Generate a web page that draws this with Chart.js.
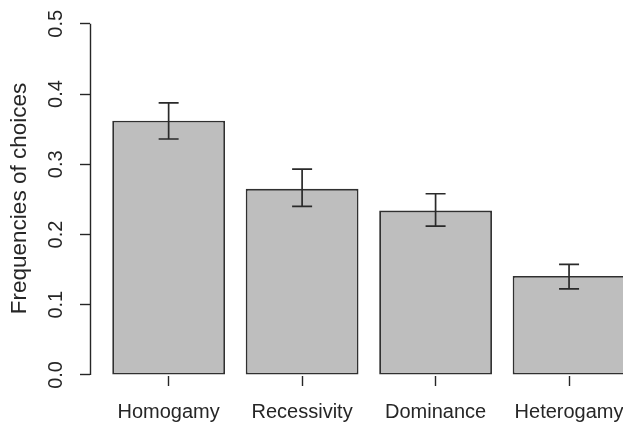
<!DOCTYPE html>
<html>
<head>
<meta charset="utf-8">
<script src="https://cdn.jsdelivr.net/npm/chart.js@4"></script>
<style>
  html, body { margin: 0; padding: 0; background: #ffffff; overflow: hidden; }
  #wrap { width: 623px; height: 425px; }
</style>
</head>
<body>
<div id="wrap"><canvas id="c" width="623" height="425"></canvas></div>
<script>
// ---- data ----
const categories = ['Homogamy', 'Recessivity', 'Dominance', 'Heterogamy'];
const frequencies = [0.362, 0.265, 0.234, 0.141];
const errorLow  = [0.336, 0.240, 0.212, 0.1225];
const errorHigh = [0.3875, 0.293, 0.258, 0.1575];
const yTickValues = [0, 0.1, 0.2, 0.3, 0.4, 0.5];
const yTitle = 'Frequencies of choices';

// R barplot convention: width 1, space 0.2 -> centres at 0.7 + 1.2*i
const centres = categories.map((_, i) => 0.7 + 1.2 * i);

const FONT = "'Liberation Sans', Arial, Helvetica, sans-serif";
const INK = '#262626';

const rStyle = {
  id: 'rStyle',
  afterDatasetsDraw(chart) {
    const { ctx, scales: { x, y } } = chart;
    ctx.save();
    ctx.strokeStyle = '#2a2a2a';
    ctx.lineWidth = 1.7;
    ctx.lineCap = 'butt';
    const cap = 10;
    centres.forEach((c, i) => {
      const px = x.getPixelForValue(c);
      const yl = y.getPixelForValue(errorLow[i]);
      const yh = y.getPixelForValue(errorHigh[i]);
      ctx.beginPath();
      ctx.moveTo(px, yl); ctx.lineTo(px, yh);
      ctx.moveTo(px - cap, yh); ctx.lineTo(px + cap, yh);
      ctx.moveTo(px - cap, yl); ctx.lineTo(px + cap, yl);
      ctx.stroke();
    });
    // y axis line spanning first to last tick (R style)
    const ax = Math.round(y.right) + 0.5;
    ctx.strokeStyle = INK;
    ctx.lineWidth = 1.4;
    ctx.beginPath();
    ctx.moveTo(ax, y.getPixelForValue(yTickValues[0]));
    ctx.lineTo(ax, y.getPixelForValue(yTickValues[yTickValues.length - 1]));
    ctx.stroke();
    ctx.restore();
  }
};

new Chart(document.getElementById('c'), {
  type: 'bar',
  data: {
    datasets: [{
      data: frequencies.map((v, i) => ({ x: centres[i], y: v })),
      backgroundColor: '#bebebe',
      borderColor: '#303030',
      borderWidth: 1.8,
      borderSkipped: false,
      categoryPercentage: 1,
      barPercentage: 0.845
    }]
  },
  options: {
    responsive: false,
    animation: false,
    layout: { padding: { top: 21, left: 0, right: 0, bottom: 0 } },
    plugins: { legend: { display: false }, tooltip: { enabled: false } },
    scales: {
      x: {
        type: 'linear',
        offset: false,
        min: -0.007,
        max: 4.785,
        afterBuildTicks: (s) => { s.ticks = centres.map(v => ({ value: v })); },
        afterFit: (s) => { s.height = 49; s.paddingLeft = 0; s.paddingRight = 0; },
        ticks: {
          autoSkip: false, maxRotation: 0, minRotation: 0,
          padding: 14,
          color: INK,
          font: { family: FONT, size: 20 },
          callback: (v, i) => categories[i]
        },
        grid: { offset: false, drawOnChartArea: false, drawTicks: true, tickLength: 10, color: INK, tickWidth: 1.4 },
        border: { display: false }
      },
      y: {
        type: 'linear',
        min: -0.0015,
        max: 0.504,
        afterBuildTicks: (s) => { s.ticks = yTickValues.map(v => ({ value: v })); },
        afterFit: (s) => { s.width = 90; s.paddingTop = 0; s.paddingBottom = 0; },
        ticks: {
          minRotation: 90, maxRotation: 90,
          crossAlign: 'center',
          padding: 10,
          color: INK,
          font: { family: FONT, size: 20 },
          callback: (v) => Number(v).toFixed(1)
        },
        grid: { drawOnChartArea: false, drawTicks: true, tickLength: 10, color: INK, tickWidth: 1.4 },
        border: { display: false },
        title: {
          display: true,
          text: yTitle,
          color: INK,
          font: { family: FONT, size: 22.5 },
          padding: { top: 6, bottom: 0 }
        }
      }
    }
  },
  plugins: [rStyle]
});
</script>
</body>
</html>
